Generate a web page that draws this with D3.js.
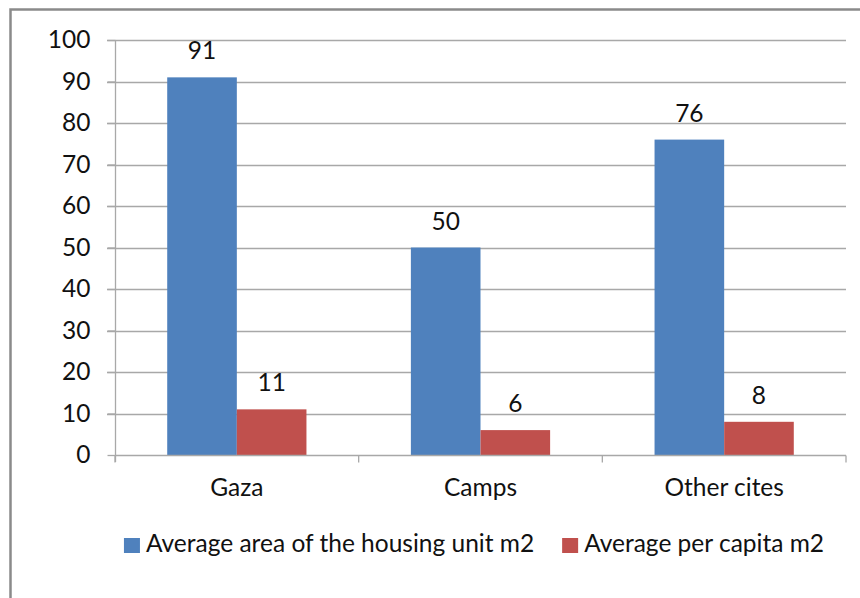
<!DOCTYPE html>
<html>
<head>
<meta charset="utf-8">
<script src="https://cdn.jsdelivr.net/npm/d3@7"></script>
<style>
  html, body { margin: 0; padding: 0; background: #fff; }
  svg { display: block; }
  text { font-family: Lato, "Open Sans", sans-serif; fill: #111; }
</style>
</head>
<body>
<svg id="chart" width="860" height="598"></svg>
<script>
// Housing area by locality (m2)
const categories = ["Gaza", "Camps", "Other cites"];
const seriesNames = ["Average area of the housing unit m2", "Average per capita m2"];
const housingUnitArea = [91, 50, 76];
const perCapitaArea = [11, 6, 8];
const seriesColors = ["#4F81BD", "#C0504D"];
const yTicks = [0, 10, 20, 30, 40, 50, 60, 70, 80, 90, 100];

const seriesValues = [housingUnitArea, perCapitaArea];
const rows = categories.map((c, i) => ({
  category: c,
  values: seriesNames.map((s, j) => ({ series: s, value: seriesValues[j][i], color: seriesColors[j] }))
}));

const svg = d3.select("#chart");
const plot = { left: 115, right: 846, top: 40, bottom: 455 };
const fontSize = 24.5;
const gridColor = "#a8a8a8";

// outer chart frame
svg.append("rect")
  .attr("x", 10.5).attr("y", 9.5)
  .attr("width", 900).attr("height", 700)
  .attr("fill", "none")
  .attr("stroke", "#8a8a8a")
  .attr("stroke-width", 2.5);

const y = d3.scaleLinear().domain([0, 100]).range([plot.bottom, plot.top]);
const x0 = d3.scaleBand().domain(categories).range([plot.left, plot.right]).padding(0);
const groupW = x0.bandwidth() * 2 / 3.5;
const x1 = d3.scaleBand().domain(seriesNames).range([0, groupW]).padding(0);
const groupOffset = (x0.bandwidth() - groupW) / 2;

// horizontal gridlines (with outward tick)
svg.append("g")
  .selectAll("line")
  .data(yTicks.filter(d => d > 0))
  .join("line")
  .attr("x1", plot.left - 8).attr("x2", plot.right)
  .attr("y1", d => Math.round(y(d)) + 0.5).attr("y2", d => Math.round(y(d)) + 0.5)
  .attr("stroke", gridColor).attr("stroke-width", 1.3);

// y axis
const yAxis = svg.append("g")
  .attr("transform", `translate(${plot.left + 0.5},0)`)
  .call(d3.axisLeft(y).tickValues(yTicks).tickSize(8).tickPadding(17).tickFormat(d3.format("d")));
yAxis.select(".domain").remove();
yAxis.selectAll(".tick line").attr("stroke", gridColor).attr("stroke-width", 1.3);
yAxis.selectAll(".tick text")
  .attr("font-size", fontSize)
  .attr("font-family", "Lato, 'Open Sans', sans-serif")
  .attr("fill", "#111");
svg.append("line")
  .attr("x1", plot.left + 0.5).attr("x2", plot.left + 0.5)
  .attr("y1", plot.top).attr("y2", plot.bottom + 7)
  .attr("stroke", gridColor).attr("stroke-width", 1.3);

// bars
const groups = svg.append("g")
  .selectAll("g")
  .data(rows)
  .join("g")
  .attr("transform", d => `translate(${x0(d.category) + groupOffset},0)`);

groups.selectAll("rect")
  .data(d => d.values)
  .join("rect")
  .attr("x", d => x1(d.series))
  .attr("y", d => y(d.value))
  .attr("width", x1.bandwidth())
  .attr("height", d => y(0) - y(d.value))
  .attr("fill", d => d.color);

// value labels
groups.selectAll("text")
  .data(d => d.values)
  .join("text")
  .attr("x", d => x1(d.series) + x1.bandwidth() / 2)
  .attr("y", d => y(d.value) - 18)
  .attr("text-anchor", "middle")
  .attr("font-size", fontSize)
  .text(d => d.value);

// x axis
const xAxis = svg.append("g")
  .attr("transform", `translate(0,${Math.round(plot.bottom) + 0.5})`)
  .call(d3.axisBottom(x0).tickSize(0).tickPadding(23));
xAxis.select(".domain")
  .attr("d", `M${plot.left},0H${plot.right}`)
  .attr("stroke", gridColor).attr("stroke-width", 1.3);
xAxis.selectAll(".tick text")
  .attr("font-size", fontSize)
  .attr("font-family", "Lato, 'Open Sans', sans-serif")
  .attr("fill", "#111");
// category separators
xAxis.append("g")
  .selectAll("line")
  .data(categories.map(c => x0(c)).concat([plot.right]))
  .join("line")
  .attr("x1", d => d).attr("x2", d => d)
  .attr("y1", 0).attr("y2", 7)
  .attr("stroke", gridColor).attr("stroke-width", 1.3);

// legend
const legend = svg.append("g").attr("transform", "translate(0,552)");
const items = legend.selectAll("g")
  .data(seriesNames.map((s, i) => ({ name: s, color: seriesColors[i] })))
  .join("g");
items.append("rect")
  .attr("y", -14).attr("width", 16).attr("height", 15)
  .attr("fill", d => d.color);
items.append("text")
  .attr("x", 22)
  .attr("font-size", fontSize)
  .text(d => d.name);
// lay out legend items side by side, centred
const widths = [];
items.each(function () {
  widths.push(22 + this.querySelector("text").getComputedTextLength());
});
const gap = 28;
const total = d3.sum(widths) + gap * (widths.length - 1);
let cursor = 474 - total / 2;
items.attr("transform", (d, i) => {
  const t = `translate(${cursor},0)`;
  cursor += widths[i] + gap;
  return t;
});
</script>
</body>
</html>
